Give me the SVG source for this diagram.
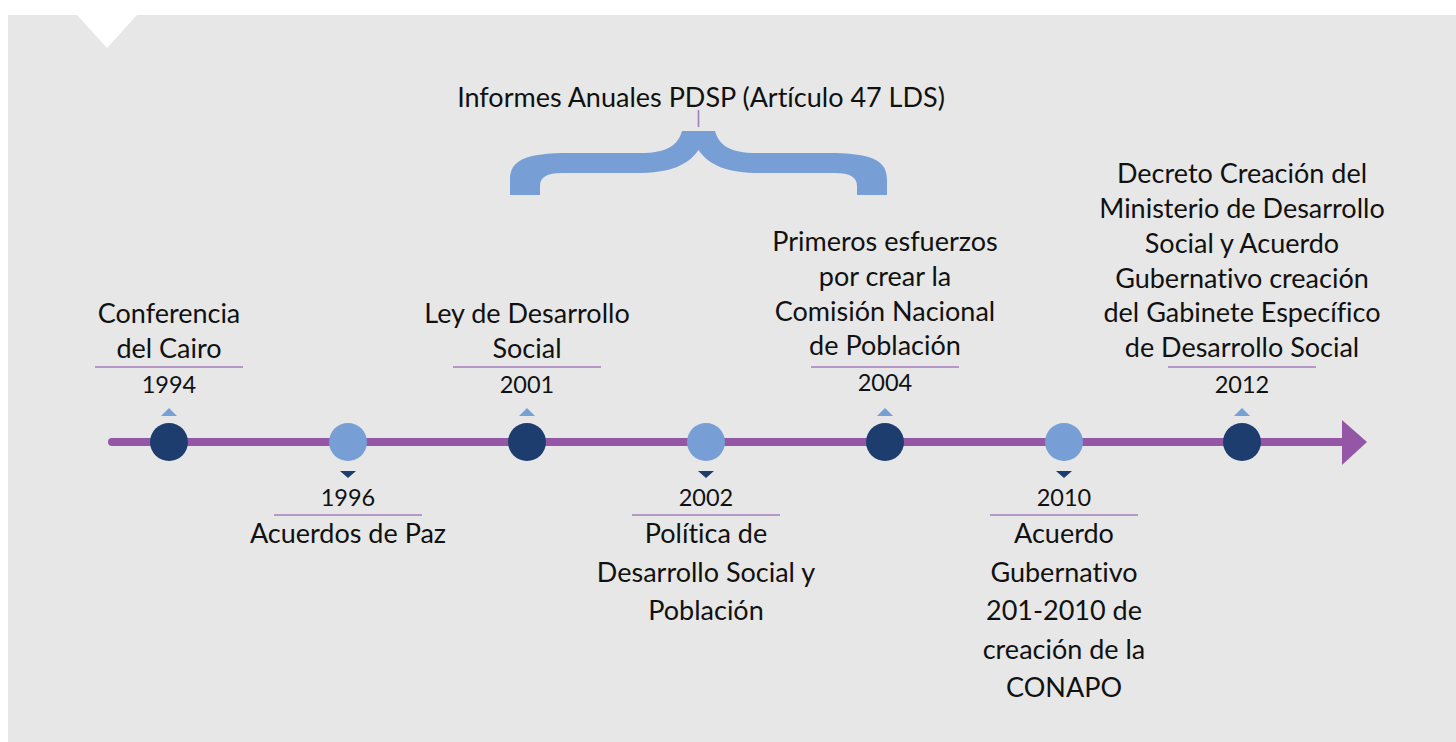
<svg xmlns="http://www.w3.org/2000/svg" width="1456" height="742" viewBox="0 0 1456 742">
<style>
.t{font-family:Lato,"Open Sans","Liberation Sans",sans-serif;font-size:27px;fill:#111;text-anchor:middle;font-variant-ligatures:none}
.y{font-family:Lato,"Open Sans","Liberation Sans",sans-serif;font-size:23.5px;fill:#111;text-anchor:middle;font-variant-ligatures:none}
.ul{stroke:#A57DBE;stroke-width:1.6}
.dk{fill:#1E3D6F}
.lt{fill:#779FD5}
</style>
<rect x="0" y="0" width="1456" height="742" fill="#ffffff"/>
<polygon points="8,15 77,15 107,48 137,15 1456,15 1456,742 8,742" fill="#E6E7E6"/>
<g id="brace">
<path d="M510,195 L510,180 C510,160 525,153 570,153 L640,153 C668,153 678,145 682,131 L715,131 C719,145 729,153 757,153 L827,153 C872,153 887,160 887,180 L887,195 L857,195 L857,186 C857,177 850,173 835,173 L761,173 C726,173 709,165 698.5,150 C688,165 671,173 636,173 L562,173 C547,173 540,177 540,186 L540,195 Z" fill="#779FD5"/>
<line x1="698.5" y1="110" x2="698.5" y2="127" class="ul"/>
<text class="t" x="701" y="107">Informes Anuales PDSP (Artículo 47 LDS)</text>
</g>
<g id="connectors">
<line x1="112" y1="442" x2="1346" y2="442" stroke="#9457A5" stroke-width="8" stroke-linecap="round"/>
<polygon points="1342,420 1367,442 1342,465" fill="#9457A5"/>
</g>
<g id="n1994">
<circle cx="169" cy="442" r="19" class="dk"/>
<polygon points="161,416 177,416 169,408" class="lt"/>
<text class="t" x="169" y="323">Conferencia</text>
<text class="t" x="169" y="358">del Cairo</text>
<line x1="95" y1="367" x2="243" y2="367" class="ul"/>
<text class="y" x="169" y="393">1994</text>
</g>
<g id="n1996">
<circle cx="348" cy="442" r="19" class="lt"/>
<polygon points="340,471 356,471 348,478" class="dk"/>
<text class="y" x="348" y="506">1996</text>
<line x1="274" y1="515" x2="422" y2="515" class="ul"/>
<text class="t" x="348" y="543">Acuerdos de Paz</text>
</g>
<g id="n2001">
<circle cx="527" cy="442" r="19" class="dk"/>
<polygon points="519,416 535,416 527,408" class="lt"/>
<text class="t" x="527" y="323">Ley de Desarrollo</text>
<text class="t" x="527" y="358">Social</text>
<line x1="453" y1="367" x2="601" y2="367" class="ul"/>
<text class="y" x="527" y="393">2001</text>
</g>
<g id="n2002">
<circle cx="706" cy="442" r="19" class="lt"/>
<polygon points="698,471 714,471 706,478" class="dk"/>
<text class="y" x="706" y="506">2002</text>
<line x1="632" y1="515" x2="780" y2="515" class="ul"/>
<text class="t" x="706" y="543">Política de</text>
<text class="t" x="706" y="582">Desarrollo Social y</text>
<text class="t" x="706" y="620">Población</text>
</g>
<g id="n2004">
<circle cx="885" cy="442" r="19" class="dk"/>
<polygon points="877,416 893,416 885,408" class="lt"/>
<text class="t" x="885" y="251">Primeros esfuerzos</text>
<text class="t" x="885" y="286">por crear la</text>
<text class="t" x="885" y="321">Comisión Nacional</text>
<text class="t" x="885" y="355">de Población</text>
<line x1="811" y1="367" x2="959" y2="367" class="ul"/>
<text class="y" x="885" y="391">2004</text>
</g>
<g id="n2010">
<circle cx="1064" cy="442" r="19" class="lt"/>
<polygon points="1056,471 1072,471 1064,478" class="dk"/>
<text class="y" x="1064" y="506">2010</text>
<line x1="990" y1="515" x2="1138" y2="515" class="ul"/>
<text class="t" x="1064" y="543">Acuerdo</text>
<text class="t" x="1064" y="582">Gubernativo</text>
<text class="t" x="1064" y="620">201-2010 de</text>
<text class="t" x="1064" y="659">creación de la</text>
<text class="t" x="1064" y="697">CONAPO</text>
</g>
<g id="n2012">
<circle cx="1242" cy="442" r="19" class="dk"/>
<polygon points="1234,416 1250,416 1242,408" class="lt"/>
<text class="t" x="1242" y="183">Decreto Creación del</text>
<text class="t" x="1242" y="218">Ministerio de Desarrollo</text>
<text class="t" x="1242" y="253">Social y Acuerdo</text>
<text class="t" x="1242" y="288">Gubernativo creación</text>
<text class="t" x="1242" y="322">del Gabinete Específico</text>
<text class="t" x="1242" y="357">de Desarrollo Social</text>
<line x1="1168" y1="367" x2="1316" y2="367" class="ul"/>
<text class="y" x="1242" y="393">2012</text>
</g>
</svg>
